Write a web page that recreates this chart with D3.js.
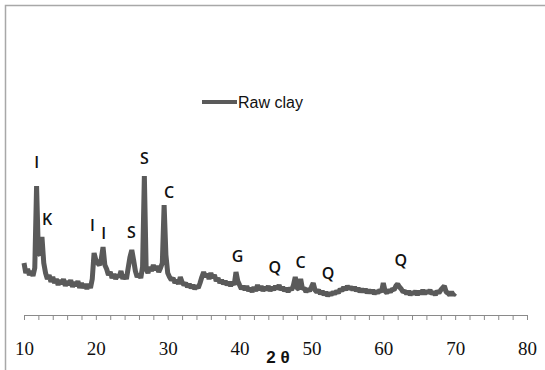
<!DOCTYPE html>
<html>
<head>
<meta charset="utf-8">
<script src="https://cdn.jsdelivr.net/npm/d3@7/dist/d3.min.js"></script>
<style>
  body { margin: 0; background: #fff; }
  svg { display: block; }
</style>
</head>
<body>
<svg id="chart" width="545" height="370"></svg>
<script>
// XRD scan of raw clay: 2θ from 10° to 70° in 0.25° steps
const scanStart = 10;
const scanStep = 0.25;
const rawClay = [
  52, 42, 46, 40, 44, 39, 47, 129, 62, 60, 78, 52, 42, 36, 40, 33, 38, 32, 36, 30,   // 10 - 14.75
  35, 31, 36, 29, 34, 30, 35, 28, 33, 29, 34, 27, 32, 27, 31, 26, 31, 27, 36, 62,    // 15 - 19.75
  55, 52, 50, 56, 68, 50, 46, 40, 43, 37, 41, 36, 40, 38, 44, 36, 40, 36, 47, 58,    // 20 - 24.75
  65, 55, 44, 38, 41, 37, 48, 139, 46, 42, 48, 44, 50, 45, 49, 43, 47, 52, 110, 60,  // 25 - 29.75
  42, 38, 35, 37, 32, 35, 31, 38, 33, 30, 32, 28, 31, 27, 30, 26, 29, 27, 32, 38,    // 30 - 34.75
  43, 38, 41, 36, 42, 37, 40, 34, 37, 32, 35, 31, 34, 30, 33, 29, 33, 30, 43, 34,    // 35 - 39.75
  30, 26, 29, 25, 29, 24, 27, 23, 28, 24, 30, 25, 29, 24, 28, 25, 29, 24, 28, 25,    // 40 - 44.75
  29, 26, 30, 25, 28, 24, 27, 23, 27, 25, 30, 38, 27, 26, 36, 26, 27, 23, 26, 24,    // 45 - 49.75
  28, 32, 25, 23, 25, 21, 24, 20, 23, 19, 22, 20, 23, 21, 24, 22, 26, 24, 28, 25,    // 50 - 54.75
  29, 26, 28, 25, 28, 24, 27, 23, 26, 23, 26, 22, 25, 22, 25, 21, 24, 22, 25, 23,    // 55 - 59.75
  32, 24, 22, 25, 23, 26, 25, 29, 31, 28, 26, 23, 24, 21, 24, 20, 23, 21, 24, 20,    // 60 - 64.75
  24, 21, 25, 21, 24, 22, 25, 21, 23, 20, 24, 22, 25, 27, 29, 23, 22, 20, 23, 20,    // 65 - 69.75
  22                                                                                  // 70
];

// phase labels: I illite, K kaolinite, S smectite, C calcite, G, Q quartz
const peakNames = ['I', 'K', 'I', 'I', 'S', 'S', 'C', 'G', 'Q', 'C', 'Q', 'Q'];
const peakTheta = [11.78, 13.2, 19.54, 21.09, 24.96, 26.74, 30.19, 39.72, 44.9, 48.48, 52.31, 62.42];
const peakLevel = [153, 96, 90, 82, 83, 157, 123, 59, 48, 53, 42, 55];

const xTickLabels = [10, 20, 30, 40, 50, 60, 70, 80];
const seriesName = 'Raw clay';
const axisTitle = '2 θ';

const svg = d3.select('#chart');

// frame (only top and left edges visible in the original)
svg.append('path')
  .attr('d', 'M5.5,370 V5.5 H545')
  .attr('fill', 'none')
  .attr('stroke', '#a8a8a8')
  .attr('stroke-width', 1.5);

const x = d3.scaleLinear().domain([10, 80]).range([24, 527]);
const y = d3.scaleLinear().domain([0, 300]).range([315, 15]);

// minor ticks every 2 degrees
const axisG = svg.append('g')
  .attr('transform', 'translate(0,315)')
  .call(d3.axisBottom(x)
    .tickValues(d3.range(10, 81, 2))
    .tickSize(5)
    .tickSizeOuter(0)
    .tickFormat(''));
axisG.select('.domain').attr('stroke', '#8a8a8a');
axisG.selectAll('.tick line').attr('stroke', '#8a8a8a');

// labelled ticks
const labelG = svg.append('g')
  .attr('transform', 'translate(0,315)')
  .call(d3.axisBottom(x)
    .tickValues(xTickLabels)
    .tickSize(0)
    .tickPadding(27)
    .tickFormat(d3.format('d')));
labelG.select('.domain').remove();
labelG.selectAll('text')
  .attr('fill', '#111')
  .style('font-family', '"Liberation Serif", "DejaVu Serif", serif')
  .style('font-size', '19px');

svg.append('text')
  .attr('x', 278)
  .attr('y', 363)
  .attr('text-anchor', 'middle')
  .style('font-family', '"Liberation Sans", Arial, sans-serif')
  .style('font-size', '17px')
  .style('font-weight', 'bold')
  .attr('fill', '#111')
  .text(axisTitle);

// pattern
const points = rawClay.map((v, i) => [scanStart + i * scanStep, v]);
const line = d3.line()
  .x(d => x(d[0]))
  .y(d => y(d[1]));

svg.append('path')
  .datum(points)
  .attr('fill', 'none')
  .attr('stroke', '#5a5a5a')
  .attr('stroke-width', 5)
  .attr('stroke-linejoin', 'bevel')
  .attr('d', line);

// phase labels
svg.selectAll('.peak-label')
  .data(peakNames)
  .enter()
  .append('text')
  .attr('class', 'peak-label')
  .attr('x', (_, i) => x(peakTheta[i]))
  .attr('y', (_, i) => y(peakLevel[i]))
  .attr('dy', '0.36em')
  .attr('text-anchor', 'middle')
  .style('font-family', '"Open Sans", sans-serif')
  .style('font-size', '16px')
  .style('font-weight', '600')
  .attr('fill', '#111')
  .text(d => d);

// legend
const legend = svg.append('g').attr('transform', 'translate(202,102)');
legend.append('line')
  .attr('x1', 0).attr('x2', 35)
  .attr('y1', 0).attr('y2', 0)
  .attr('stroke', '#5a5a5a')
  .attr('stroke-width', 4);
legend.append('text')
  .attr('x', 36)
  .attr('y', 0)
  .attr('dy', '0.35em')
  .style('font-family', '"Liberation Sans Narrow", "Arial Narrow", sans-serif')
  .style('font-size', '16px')
  .attr('fill', '#111')
  .text(seriesName);
</script>
</body>
</html>
